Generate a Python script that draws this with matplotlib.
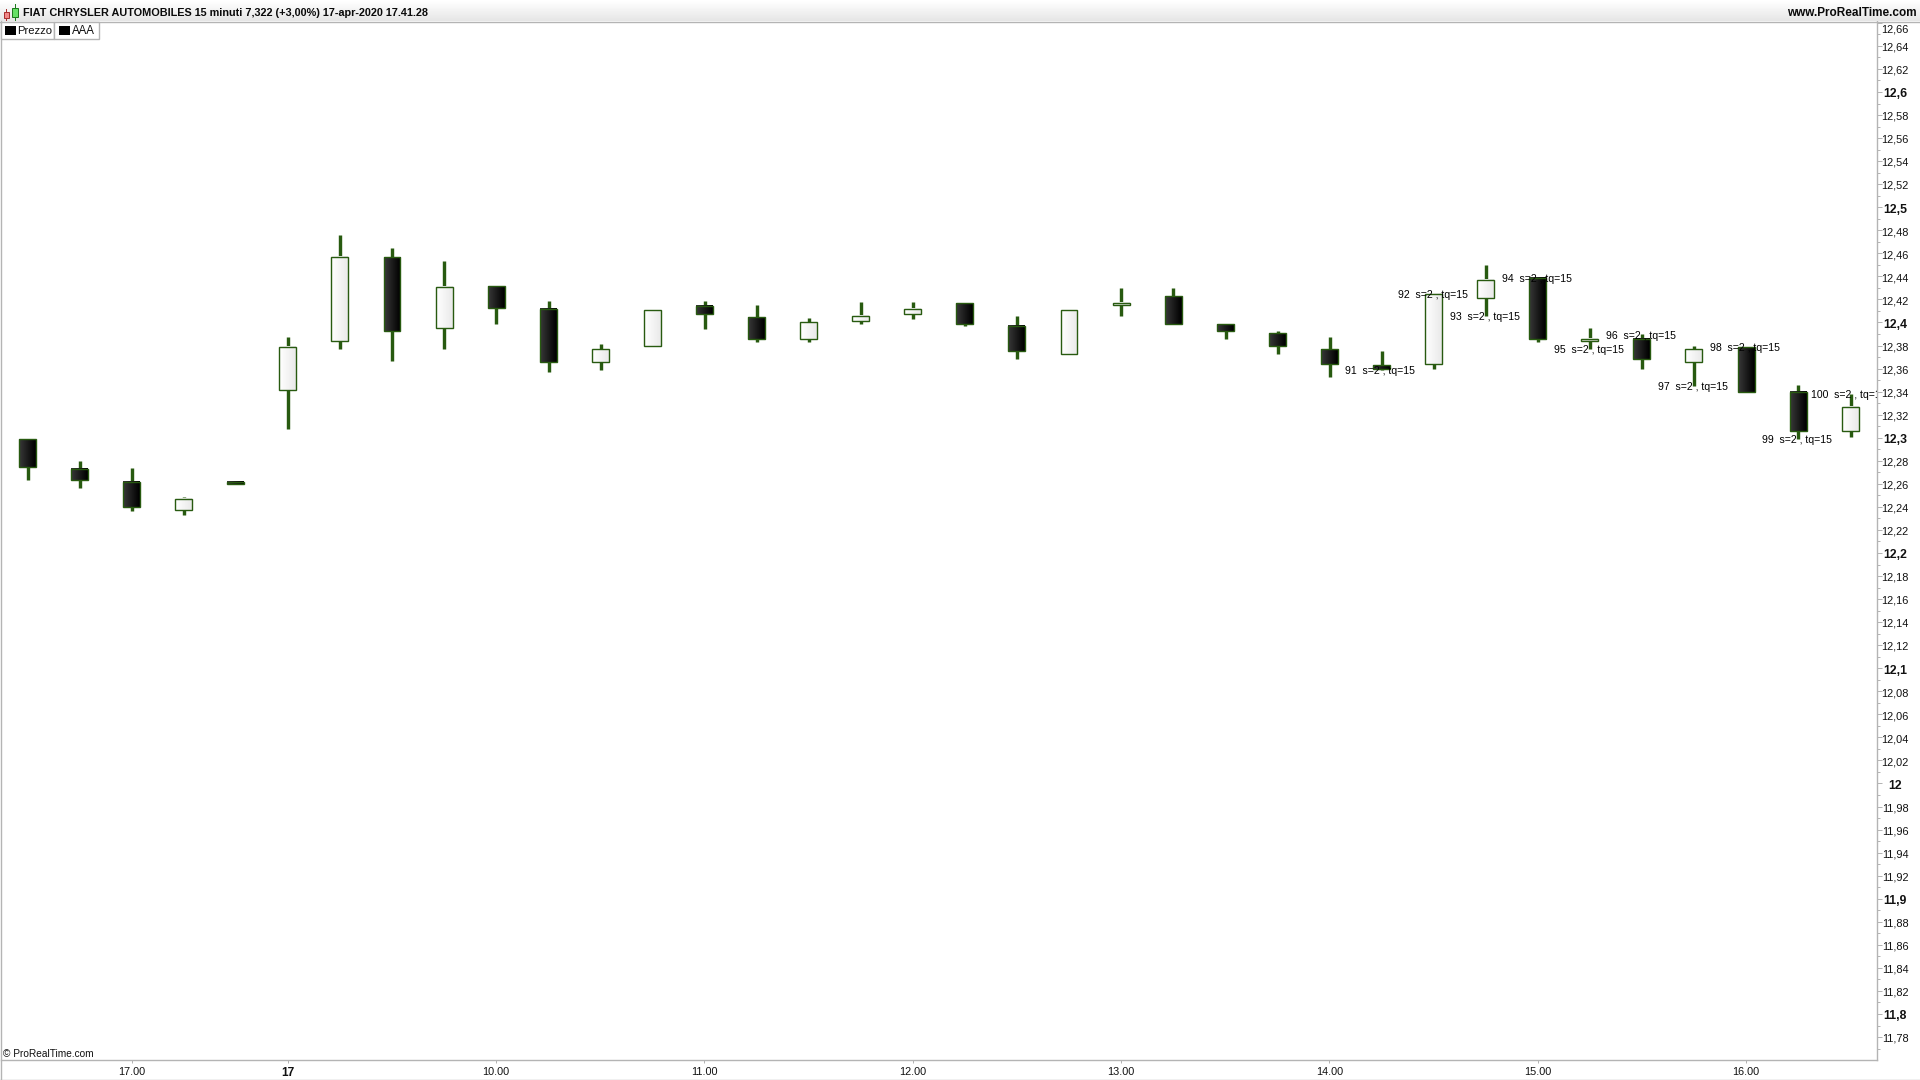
import numpy as np
import matplotlib
matplotlib.use("Agg")
import matplotlib.pyplot as plt
from matplotlib.patches import Rectangle
from matplotlib.ticker import FixedLocator

plt.rcParams['font.family'] = ['Liberation Sans', 'DejaVu Sans']

title = "FIAT CHRYSLER AUTOMOBILES 15 minuti 7,322 (+3,00%) 17-apr-2020 17.41.28"
site = "www.ProRealTime.com"
legend_names = ["Prezzo", "AAA"]

opens = [12.299, 12.273, 12.262, 12.237, 12.262, 12.341, 12.384, 12.457, 12.395, 12.432, 12.412, 12.366,
         12.380, 12.414, 12.405, 12.386, 12.401, 12.407, 12.417, 12.397, 12.373, 12.415, 12.423, 12.399,
         12.391, 12.377, 12.363, 12.364, 12.421, 12.439, 12.384, 12.386, 12.366, 12.379, 12.340, 12.306]
closes = [12.275, 12.263, 12.240, 12.247, 12.260, 12.379, 12.457, 12.393, 12.431, 12.413, 12.366, 12.377,
          12.411, 12.407, 12.386, 12.400, 12.406, 12.412, 12.399, 12.375, 12.411, 12.417, 12.399, 12.393,
          12.380, 12.364, 12.360, 12.425, 12.437, 12.386, 12.386, 12.368, 12.377, 12.340, 12.306, 12.327]
highs = [12.299, 12.280, 12.274, 12.249, 12.262, 12.387, 12.476, 12.465, 12.453, 12.432, 12.419, 12.381,
         12.411, 12.419, 12.415, 12.404, 12.418, 12.418, 12.417, 12.406, 12.411, 12.430, 12.430, 12.399,
         12.393, 12.387, 12.375, 12.425, 12.450, 12.439, 12.395, 12.390, 12.380, 12.379, 12.346, 12.338]
lows = [12.263, 12.256, 12.236, 12.233, 12.260, 12.308, 12.377, 12.367, 12.377, 12.399, 12.357, 12.359,
        12.380, 12.394, 12.383, 12.383, 12.399, 12.403, 12.397, 12.368, 12.373, 12.406, 12.399, 12.386,
        12.373, 12.353, 12.359, 12.360, 12.406, 12.383, 12.377, 12.360, 12.345, 12.340, 12.299, 12.301]

x_tick_pos = [2, 5, 9, 13, 17, 21, 25, 29, 33]
x_tick_labels = ["17.00", "17", "10.00", "11.00", "12.00", "13.00", "14.00", "15.00", "16.00"]
x_bold = ["17"]

annot_ids = [91, 92, 93, 94, 95, 96, 97, 98, 99, 100]
annot_pos = [26, 27, 28, 29, 30, 31, 32, 33, 34, 35]
annot_at_high = [False, True, False, True, False, True, False, True, False, True]
annot_suffix = "s=2 , tq=15"

y_major = [round(11.78 + 0.02 * i, 2) for i in range(45)]
y_minor = [round(11.77 + 0.02 * i, 2) for i in range(45)]

GREEN = "#285a10"
GREY = "#b4b4b4"
PX = 72 / 100

fig = plt.figure(figsize=(19.2, 10.8), dpi=100, facecolor="white")

# chart axes, pixel rectangle 1..1877 x 21..1059.5
L, R, T, B = 1, 1876.5, 21, 1059.5
ax = fig.add_axes([L / 1920, 1 - B / 1080, (R - L) / 1920, (B - T) / 1080])
XLIM = (-0.507, 35.505)
YLIM = (11.7605, 12.6616)
ax.set_xlim(*XLIM)
ax.set_ylim(*YLIM)

xs = np.arange(len(opens))
ax.vlines(xs + 0.006, lows, highs, color=GREEN, lw=3.4 * PX, zorder=2)

W = 0.325
dark = np.linspace(0x38, 0x00, 17)[None, :] / 255
light = np.linspace(0xff, 0xea, 17)[None, :] / 255
for x, o, c in zip(xs, opens, closes):
    lo, hi = min(o, c), max(o, c)
    grad = light if c >= o else dark
    ax.imshow(grad, extent=(x - W / 2, x + W / 2, lo, hi), cmap="gray", vmin=0, vmax=1,
              aspect="auto", zorder=3, interpolation="bilinear")
    ax.add_patch(Rectangle((x - W / 2, lo), W, hi - lo, fill=False, ec=GREEN, lw=1.4 * PX, zorder=4))
ax.set_xlim(*XLIM)
ax.set_ylim(*YLIM)

for n, i, up in zip(annot_ids, annot_pos, annot_at_high):
    yv = highs[i] if up else lows[i]
    ax.annotate(f"{n}  {annot_suffix}", xy=(i, yv), xytext=(-1 * PX, -1.5 * PX), textcoords="offset points",
                ha="center", va="center", fontsize=7.6, color="black", zorder=5,
                annotation_clip=True, clip_on=True)

for s in ("top", "left"):
    ax.spines[s].set_visible(False)
for s in ("right", "bottom"):
    ax.spines[s].set_color(GREY)
    ax.spines[s].set_linewidth(1.4 * PX)

ax.yaxis.tick_right()
ax.yaxis.set_major_locator(FixedLocator(y_major))
ax.yaxis.set_minor_locator(FixedLocator(y_minor))
ax.tick_params(axis="y", which="major", length=5 * PX, width=1 * PX, color=GREY, labelright=False)
ax.tick_params(axis="y", which="minor", length=3 * PX, width=1 * PX, color=GREY)

for v in y_major:
    bold = abs(v * 10 - round(v * 10)) < 1e-6
    lab = f"{v:.2f}".rstrip("0").rstrip(".").replace(".", ",")
    dy = -6 if v == max(y_major) else -0.8
    ax.annotate(lab, xy=(1, v), xycoords=("axes fraction", "data"),
                xytext=(18.5 * PX, dy * PX), textcoords="offset points",
                ha="center", va="center_baseline", color="#111111",
                fontsize=8.8 if bold else 7.9, fontweight="bold" if bold else "normal",
                annotation_clip=False)

ax.set_xticks(x_tick_pos)
ax.set_xticklabels(x_tick_labels)
ax.tick_params(axis="x", length=3 * PX, width=1 * PX, color=GREY, pad=3.5, labelsize=7.8, labelcolor="#111111")
for lab in ax.get_xticklabels():
    if lab.get_text() in x_bold:
        lab.set_fontweight("bold")
        lab.set_fontsize(8.6)

# window chrome, drawn in pixel coordinates
ov = fig.add_axes([0, 0, 1, 1])
ov.set_xlim(0, 1920)
ov.set_ylim(1080, 0)
ov.axis("off")
ov.patch.set_visible(False)

bar = np.linspace(1.0, 0.90, 21)[:, None]
ov.imshow(bar, extent=(0, 1920, 21, 0), cmap="gray", vmin=0, vmax=1, aspect="auto", zorder=1)
ov.set_xlim(0, 1920)
ov.set_ylim(1080, 0)
ov.plot([0, 1920], [21.5, 21.5], color=GREY, lw=1.4 * PX, zorder=2)
ov.plot([0.5, 0.5], [21, 1080], color=GREY, lw=1.4 * PX, zorder=2)
ov.plot([0, 1920], [1079.5, 1079.5], color=GREY, lw=1.4 * PX, zorder=2)

# application icon
ov.plot([6, 6], [9, 20], color="#a83030", lw=1 * PX, zorder=3)
ov.add_patch(Rectangle((3.5, 11.5), 5.5, 6, fc="#f08888", ec="#a83030", lw=1 * PX, zorder=4))
ov.plot([14.5, 14.5], [4, 20], color="#1d7a1d", lw=1 * PX, zorder=3)
ov.add_patch(Rectangle((11.5, 7.5), 6, 9, fc="#66e066", ec="#1d7a1d", lw=1 * PX, zorder=4))

ov.text(23, 12.8, title, fontsize=7.8, fontweight="bold", va="center", ha="left", color="#0a0a0a", zorder=5)
ov.text(1916.5, 13, site, fontsize=8.5, fontweight="bold", va="center", ha="right", color="#0a0a0a", zorder=5)

# legend tabs
ov.add_patch(Rectangle((0.5, 21.5), 53.5, 17, fc="white", ec=GREY, lw=1.4 * PX, zorder=5))
ov.add_patch(Rectangle((54, 21.5), 45, 17, fc="white", ec=GREY, lw=1.4 * PX, zorder=5))
ov.add_patch(Rectangle((5, 25.5), 10.5, 9.5, fc="black", ec="none", zorder=6))
ov.add_patch(Rectangle((59, 25.5), 10.5, 9.5, fc="black", ec="none", zorder=6))
ov.text(17.3, 31, legend_names[0], fontsize=8.1, va="center", ha="left", color="#111111", zorder=6)
ov.text(71.7, 31, legend_names[1], fontsize=8.3, va="center", ha="left", color="#111111", zorder=6)

ov.text(3, 1054, "© ProRealTime.com", fontsize=7.3, va="center", ha="left", color="#111111", zorder=6)

fig.savefig("out.png", dpi=100, facecolor="white")
